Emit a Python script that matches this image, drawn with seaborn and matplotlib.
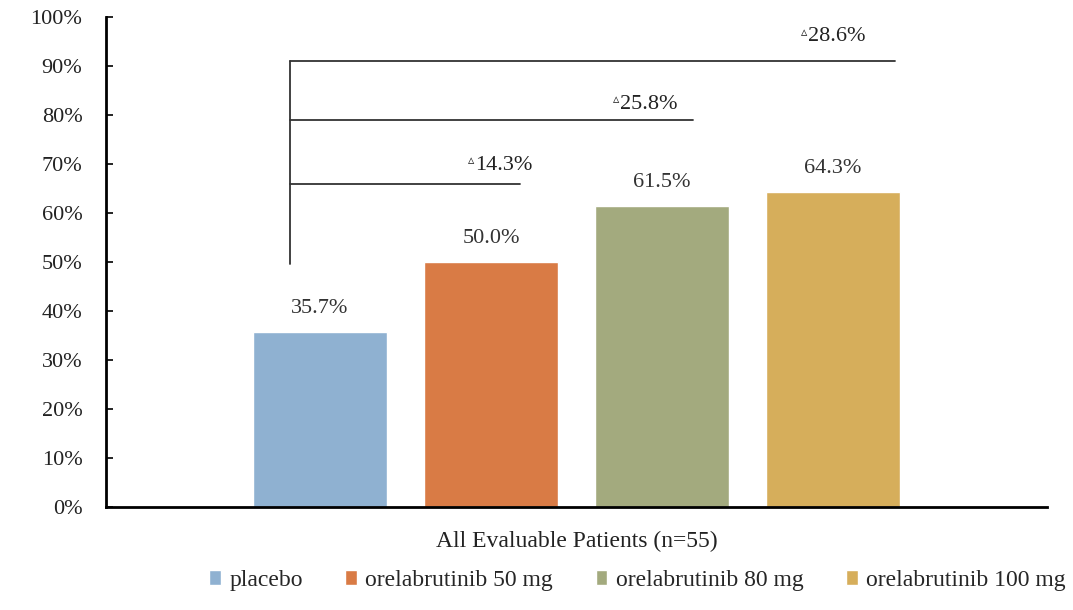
import matplotlib
matplotlib.use("Agg")
import matplotlib.pyplot as plt
import seaborn as sns
import pandas as pd
from matplotlib.patches import Patch

# Response rates per treatment arm
arms = ["placebo", "orelabrutinib 50 mg", "orelabrutinib 80 mg", "orelabrutinib 100 mg"]
rates = [35.7, 50.0, 61.5, 64.3]
group = "All Evaluable Patients (n=55)"
colors = ["#8fb1d1", "#d97b45", "#a3aa7e", "#d6ae5b"]

# Differences vs placebo
diff_labels = ["14.3%", "25.8%", "28.6%"]

# Bracket geometry (data units)
bracket_x = -0.304
bracket_bottom = 49.5
bracket_levels = [66.0, 79.0, 91.0]
bracket_ends = [-0.060, 0.124, 0.338]
diff_text_x = [-0.108, 0.046, 0.246]
diff_text_y = [69.8, 82.2, 96.0]

yticks = list(range(0, 101, 10))

sns.set_theme(style="white")
plt.rcParams["font.family"] = ["Liberation Serif", "DejaVu Serif"]

df = pd.DataFrame({"group": [group] * len(arms), "arm": arms, "rate": rates})

fig = plt.figure(figsize=(10.73, 6.10), dpi=100)
ax = fig.add_axes([0.0988, 0.169, 0.877, 0.803])

sns.barplot(data=df, x="group", y="rate", hue="arm", hue_order=arms,
            palette=colors, width=0.727, gap=0.216, saturation=1,
            legend=False, ax=ax)

for cont in ax.containers:
    ax.bar_label(cont, fmt="%.1f%%", padding=10, fontsize=16, color="#333333")

# Comparison brackets against placebo
ax.plot([bracket_x, bracket_x], [bracket_bottom, max(bracket_levels)], color="#333333", lw=1.3)
for lvl, end in zip(bracket_levels, bracket_ends):
    ax.plot([bracket_x, end], [lvl, lvl], color="#333333", lw=1.3)
for lab, tx, ty in zip(diff_labels, diff_text_x, diff_text_y):
    ax.text(tx, ty, lab, ha="left", va="center", fontsize=16, color="#222222")
    ax.text(tx - 0.001, ty + 0.9, "\u25b5", ha="right", va="center",
            fontsize=9, color="#222222", family=["DejaVu Sans"])

ax.set_xlim(-0.5, 0.5)
ax.set_ylim(0, 100)
ax.set_yticks(yticks)
ax.set_yticklabels([f"{v}%" for v in yticks], fontsize=16, color="#222222")
ax.set_xticks([])
ax.set_xlabel(group, fontsize=17, color="#222222", labelpad=17)
ax.set_ylabel("")
ax.tick_params(axis="y", direction="in", length=5, width=1.2, color="black", left=True, pad=17)

for side in ["top", "right"]:
    ax.spines[side].set_visible(False)
for side in ["left", "bottom"]:
    ax.spines[side].set_color("black")
    ax.spines[side].set_linewidth(2)

handles = [Patch(facecolor=c, label=a) for a, c in zip(arms, colors)]
fig.legend(handles=handles, loc="center", bbox_to_anchor=(0.594, 0.049), ncol=4,
           frameon=False, fontsize=17, handlelength=0.5, handleheight=0.6,
           handletextpad=0.35, columnspacing=1.8)

fig.savefig("out.png", dpi=100)
